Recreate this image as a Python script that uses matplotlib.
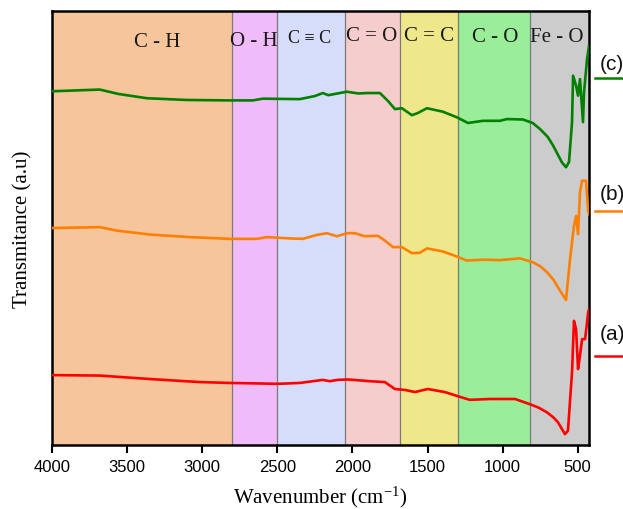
import matplotlib
matplotlib.use("Agg")
import matplotlib.pyplot as plt
from matplotlib.lines import Line2D

plt.rcParams["mathtext.fontset"] = "custom"
plt.rcParams["mathtext.rm"] = "Liberation Serif"
plt.rcParams["mathtext.it"] = "Liberation Serif:italic"

# FTIR spectra, wavenumber (cm^-1) vs transmittance (arbitrary, offset per sample)
wn_c = [4000, 3682, 3560, 3369, 3103, 2817, 2663, 2596, 2370, 2350, 2250, 2197, 2160,
        2130, 2037, 1960, 1904, 1817, 1764, 1717, 1671, 1604, 1564, 1504, 1398, 1304,
        1231, 1131, 1018, 971, 865, 800, 751, 700, 664, 605, 578, 558, 538, 531, 511,
        498, 485, 465, 458, 438, 425]
t_c = [81.5, 81.9, 80.9, 79.9, 79.5, 79.4, 79.4, 79.8, 79.7, 79.7, 80.4, 81.1, 80.6,
       80.8, 81.4, 81.0, 81.1, 81.1, 79.3, 77.4, 77.6, 76.0, 76.5, 77.6, 76.8, 75.5,
       74.2, 74.7, 74.7, 75.1, 75.0, 74.2, 72.8, 71.0, 69.0, 65.1, 64.0, 65.2, 74.4,
       85.1, 82.8, 80.5, 84.3, 74.4, 81.3, 88.9, 92.0]

wn_b = [4000, 3682, 3569, 3349, 3083, 2817, 2636, 2570, 2417, 2330, 2237, 2170, 2103,
        2037, 1984, 1917, 1830, 1784, 1730, 1671, 1604, 1551, 1504, 1398, 1318, 1238,
        1131, 1018, 885, 798, 750, 704, 660, 631, 578, 551, 525, 511, 498, 485, 471,
        445, 431, 425]
t_b = [50.0, 50.2, 49.4, 48.5, 47.9, 47.5, 47.5, 47.9, 47.6, 47.5, 48.4, 48.8, 48.1,
       48.8, 48.8, 48.1, 48.2, 47.1, 45.6, 45.6, 44.2, 44.3, 45.3, 44.6, 43.6, 42.5,
       42.7, 42.6, 43.0, 42.1, 41.2, 39.8, 38.0, 36.3, 33.4, 42.9, 50.5, 52.8, 48.6,
       58.2, 60.9, 60.9, 54.0, 53.2]

wn_a = [4000, 3682, 3349, 3017, 2817, 2496, 2350, 2197, 2150, 2100, 2030, 1884, 1784,
        1717, 1651, 1584, 1498, 1385, 1285, 1218, 1085, 918, 818, 760, 704, 660, 631,
        585, 565, 538, 525, 511, 498, 485, 471, 451, 431, 425]
t_a = [16.1, 16.0, 15.2, 14.5, 14.3, 14.1, 14.3, 15.0, 14.7, 15.0, 15.1, 14.7, 14.5,
       12.9, 12.7, 12.2, 12.9, 12.2, 11.1, 10.4, 10.6, 10.6, 9.4, 8.6, 7.5, 6.3, 5.2,
       2.5, 3.3, 16.8, 28.6, 26.7, 17.5, 20.6, 24.4, 24.4, 30.4, 31.3]

# Functional-group bands
band_edges = [4000, 2800, 2500, 2050, 1680, 1300, 820, 425]
band_names = ["C - H", "O - H", "C \u2261 C", "C = O", "C = C", "C - O", "Fe - O"]
band_colors = ["#F7C59B", "#F0BBF9", "#D6DDFA", "#F4CDCC", "#EEE88A", "#9AEE9A", "#CCCCCC"]
label_wn = [3302, 2655, 2285, 1870, 1490, 1050, 640]
label_t = [92.9, 93.2, 93.9, 94.3, 94.3, 94.1, 94.1]
label_size = [15, 15, 13, 15, 15, 15, 15]

sample_names = ["(a)", "(b)", "(c)"]
sample_colors = ["#FF0000", "#FF8000", "#008000"]

fig = plt.figure(figsize=(6.23, 5.10), dpi=100)
ax = fig.add_axes([52 / 623, 1 - 446 / 510, 537 / 623, 434 / 510])

for i in range(len(band_names)):
    ax.axvspan(band_edges[i], band_edges[i + 1], color=band_colors[i], lw=0, zorder=0)
for e in band_edges[1:-1]:
    ax.axvline(e, color="#7a7a7a", lw=0.9, zorder=1)

serif = ["Liberation Serif", "DejaVu Serif"]
for name, x, y, s in zip(band_names, label_wn, label_t, label_size):
    ax.text(x, y, name, ha="center", va="center", fontsize=s, family=serif, color="#1a1a1a")

for wn, t, c in zip([wn_a, wn_b, wn_c], [t_a, t_b, t_c], sample_colors):
    ax.plot(wn, t, color=c, lw=1.9, zorder=3)

ax.set_xlim(4000, 425)
ax.set_ylim(0, 100)
ax.set_xticks([4000, 3500, 3000, 2500, 2000, 1500, 1000, 500])
ax.set_yticks([])
ax.tick_params(axis="x", direction="out", length=6, width=1.5, labelsize=12, pad=4)
for lab in ax.get_xticklabels():
    lab.set_family("Liberation Sans")
for sp in ax.spines.values():
    sp.set_linewidth(1.8)
    sp.set_color("black")

ax.set_xlabel("Wavenumber (cm$^{-1}$)", fontsize=15, family="Liberation Serif", labelpad=7)
ax.set_ylabel("Transmitance (a.u)", fontsize=15, family="Liberation Serif", labelpad=14)

# Sample markers on the right margin
text_y = [335, 195, 65]
line_y = [357, 212, 79]
for name, c, ty, ly in zip(sample_names, sample_colors, text_y, line_y):
    fig.text(600 / 623, 1 - ty / 510, name, fontsize=15, family="Liberation Sans",
             va="center", ha="left", color="#111111")
    fig.add_artist(Line2D([595 / 623, 1.0], [1 - ly / 510] * 2, color=c, lw=1.8,
                          transform=fig.transFigure))

fig.savefig("out.png", dpi=100)
